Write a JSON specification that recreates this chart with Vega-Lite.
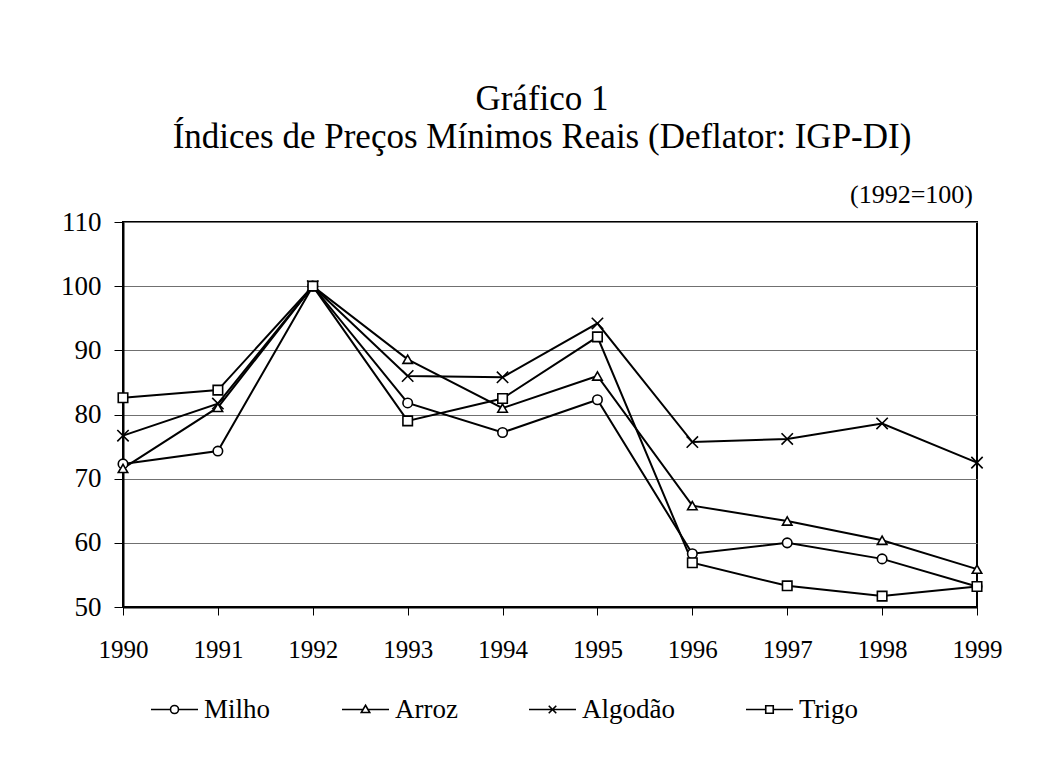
{
  "$schema": "https://vega.github.io/schema/vega-lite/v6.json",
  "width": 854,
  "height": 385,
  "autosize": {"type": "none"},
  "padding": {"left": 123, "top": 222, "right": 84, "bottom": 162},
  "background": "white",
  "config": {
    "font": "Liberation Serif",
    "view": {"stroke": "black", "strokeWidth": 2}
  },
  "title": {
    "text": ["Gráfico 1", "Índices de Preços Mínimos Reais (Deflator: IGP-DI)"],
    "font": "Liberation Serif",
    "fontSize": 35,
    "fontWeight": "normal",
    "color": "black",
    "anchor": "middle",
    "frame": "group",
    "dx": -8,
    "lineHeight": 38,
    "offset": 27
  },
  "datasets": {
    "indices": [
      {"ano": "1990", "serie": "Milho", "indice": 72.3},
      {"ano": "1991", "serie": "Milho", "indice": 74.3},
      {"ano": "1992", "serie": "Milho", "indice": 100},
      {"ano": "1993", "serie": "Milho", "indice": 81.8},
      {"ano": "1994", "serie": "Milho", "indice": 77.2},
      {"ano": "1995", "serie": "Milho", "indice": 82.3},
      {"ano": "1996", "serie": "Milho", "indice": 58.3},
      {"ano": "1997", "serie": "Milho", "indice": 60.0},
      {"ano": "1998", "serie": "Milho", "indice": 57.5},
      {"ano": "1999", "serie": "Milho", "indice": 53.2},
      {"ano": "1990", "serie": "Arroz", "indice": 71.6},
      {"ano": "1991", "serie": "Arroz", "indice": 81.1},
      {"ano": "1992", "serie": "Arroz", "indice": 100},
      {"ano": "1993", "serie": "Arroz", "indice": 88.6},
      {"ano": "1994", "serie": "Arroz", "indice": 81.0},
      {"ano": "1995", "serie": "Arroz", "indice": 86.0},
      {"ano": "1996", "serie": "Arroz", "indice": 65.8},
      {"ano": "1997", "serie": "Arroz", "indice": 63.4},
      {"ano": "1998", "serie": "Arroz", "indice": 60.4},
      {"ano": "1999", "serie": "Arroz", "indice": 55.9},
      {"ano": "1990", "serie": "Algodão", "indice": 76.7},
      {"ano": "1991", "serie": "Algodão", "indice": 81.7},
      {"ano": "1992", "serie": "Algodão", "indice": 100},
      {"ano": "1993", "serie": "Algodão", "indice": 86.0},
      {"ano": "1994", "serie": "Algodão", "indice": 85.8},
      {"ano": "1995", "serie": "Algodão", "indice": 94.2},
      {"ano": "1996", "serie": "Algodão", "indice": 75.7},
      {"ano": "1997", "serie": "Algodão", "indice": 76.2},
      {"ano": "1998", "serie": "Algodão", "indice": 78.6},
      {"ano": "1999", "serie": "Algodão", "indice": 72.5},
      {"ano": "1990", "serie": "Trigo", "indice": 82.6},
      {"ano": "1991", "serie": "Trigo", "indice": 83.8},
      {"ano": "1992", "serie": "Trigo", "indice": 100},
      {"ano": "1993", "serie": "Trigo", "indice": 79.0},
      {"ano": "1994", "serie": "Trigo", "indice": 82.5},
      {"ano": "1995", "serie": "Trigo", "indice": 92.1},
      {"ano": "1996", "serie": "Trigo", "indice": 56.9},
      {"ano": "1997", "serie": "Trigo", "indice": 53.3},
      {"ano": "1998", "serie": "Trigo", "indice": 51.7},
      {"ano": "1999", "serie": "Trigo", "indice": 53.2}
    ],
    "nota": [
      {"ano": "1999", "indice": 110, "nota": "(1992=100)"}
    ]
  },
  "layer": [
    {
      "data": {"name": "indices"},
      "mark": {"type": "line", "color": "black", "strokeWidth": 2},
      "encoding": {
        "x": {
          "field": "ano",
          "type": "ordinal",
          "scale": {"type": "point", "padding": 0},
          "axis": {
            "title": null,
            "labelAngle": 0,
            "labelFont": "Liberation Serif",
            "labelFontSize": 25,
            "labelColor": "black",
            "labelPadding": 22,
            "tickSize": 8,
            "tickColor": "black",
            "tickWidth": 1,
            "domainColor": "black",
            "domainWidth": 2,
            "grid": false
          }
        },
        "y": {
          "field": "indice",
          "type": "quantitative",
          "scale": {"domain": [50, 110], "nice": false, "zero": false},
          "axis": {
            "title": null,
            "values": [50, 60, 70, 80, 90, 100, 110],
            "labelFont": "Liberation Serif",
            "labelFontSize": 27,
            "labelColor": "black",
            "labelPadding": 13,
            "tickSize": 9,
            "tickColor": "black",
            "tickWidth": 1,
            "domainColor": "black",
            "domainWidth": 2,
            "grid": true,
            "gridColor": "#707070",
            "gridWidth": 1
          }
        },
        "detail": {"field": "serie", "type": "nominal"}
      }
    },
    {
      "data": {"name": "indices"},
      "mark": {"type": "point", "filled": true, "fill": "white", "fillOpacity": 1, "stroke": "black", "strokeWidth": 1.6, "opacity": 1, "size": 90},
      "encoding": {
        "x": {"field": "ano", "type": "ordinal"},
        "y": {"field": "indice", "type": "quantitative"},
        "shape": {
          "field": "serie",
          "type": "nominal",
          "scale": {
            "domain": ["Milho", "Arroz", "Algodão", "Trigo"],
            "range": ["circle", "triangle-up", "M-1.2,-1.2L1.2,1.2M-1.2,1.2L1.2,-1.2", "square"]
          },
          "legend": null
        }
      }
    },
    {
      "data": {"name": "indices"},
      "transform": [{"filter": "datum.indice < 0"}],
      "mark": {"type": "point", "filled": false, "color": "black", "opacity": 1, "strokeWidth": 1.6, "size": 2209},
      "encoding": {
        "x": {"field": "ano", "type": "ordinal"},
        "y": {"field": "indice", "type": "quantitative"},
        "shape": {
          "field": "serie",
          "type": "nominal",
          "scale": {
            "domain": ["Milho", "Arroz", "Algodão", "Trigo"],
            "range": [
              "M-1,0L-0.17,0M0.17,0L1,0M-0.17,0A0.17,0.17 0 1,0 0.17,0A0.17,0.17 0 1,0 -0.17,0Z",
              "M-1,0L-0.1,0M0.1,0L1,0M0,-0.18L0.18,0.13L-0.18,0.13Z",
              "M-1,0L1,0M-0.16,-0.16L0.16,0.16M-0.16,0.16L0.16,-0.16",
              "M-1,0L-0.16,0M0.16,0L1,0M-0.16,-0.16L0.16,-0.16L0.16,0.16L-0.16,0.16Z"
            ]
          },
          "legend": {
            "orient": "none",
            "legendX": 27,
            "legendY": 463,
            "direction": "horizontal",
            "columns": 4,
            "gridAlign": "none",
            "columnPadding": 67,
            "title": null,
            "padding": 0,
            "symbolSize": 2209,
            "symbolStrokeColor": "black",
            "symbolFillColor": "white",
            "symbolStrokeWidth": 1.6,
            "symbolOpacity": 1,
            "labelFont": "Liberation Serif",
            "labelFontSize": 27,
            "labelColor": "black",
            "labelOffset": 5,
            "labelLimit": 0
          }
        }
      }
    },
    {
      "data": {"name": "nota"},
      "mark": {"type": "text", "align": "right", "baseline": "alphabetic", "dy": -19, "dx": -4, "font": "Liberation Serif", "fontSize": 26, "fill": "black"},
      "encoding": {
        "x": {"field": "ano", "type": "ordinal"},
        "y": {"field": "indice", "type": "quantitative"},
        "text": {"field": "nota", "type": "nominal"}
      }
    }
  ],
  "resolve": {"scale": {"shape": "independent"}, "legend": {"shape": "independent"}}
}
